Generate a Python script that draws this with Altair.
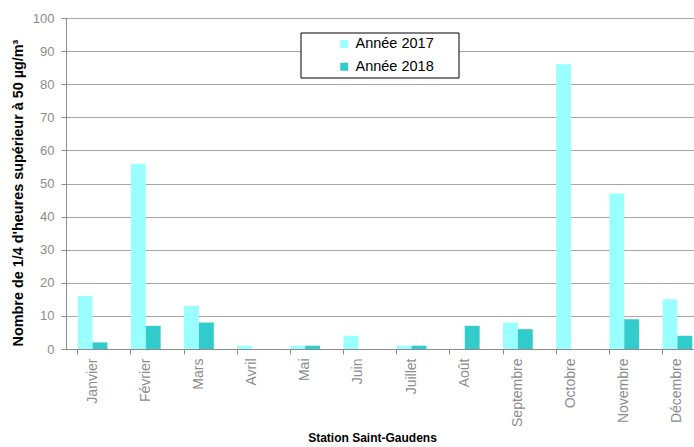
import altair as alt
import pandas as pd

months = ["Janvier", "Février", "Mars", "Avril", "Mai", "Juin", "Juillet",
          "Août", "Septembre", "Octobre", "Novembre", "Décembre"]
v2017 = [16, 56, 13, 1, 1, 4, 1, 0, 8, 86, 47, 15]
v2018 = [2, 7, 8, 0, 1, 0, 1, 7, 6, 0, 9, 4]
series = ["Année 2017", "Année 2018"]
colors = ["#99FFFF", "#33CCCC"]
y_ticks = list(range(0, 101, 10))

rows = []
for m, a, b in zip(months, v2017, v2018):
    rows.append({"Mois": m, "Série": series[0], "Valeur": a})
    rows.append({"Mois": m, "Série": series[1], "Valeur": b})
df = pd.DataFrame(rows)

FONT = "Liberation Sans"
GREY = "#8c8c8c"

bars = alt.Chart(df).mark_bar().encode(
    x=alt.X("Mois:N", sort=months,
            scale=alt.Scale(range=[0, 638], paddingInner=0.44, paddingOuter=0.22),
            axis=alt.Axis(title="Station Saint-Gaudens", labelAngle=-90,
                          bandPosition=0, tickSize=5,
                          labelPadding=4, labelColor=GREY, labelFontSize=14,
                          labelFont=FONT, domainColor=GREY, tickColor=GREY,
                          titleFont=FONT, titleFontSize=12, titleFontWeight="bold",
                          titleColor="black", titleX=306, titleY=88,
                          titleBaseline="middle", titleAlign="center")),
    xOffset=alt.XOffset("Série:N", sort=series, scale=alt.Scale(paddingInner=0, paddingOuter=0)),
    y=alt.Y("Valeur:Q", scale=alt.Scale(domain=[0, 100], nice=False),
            axis=alt.Axis(values=y_ticks, title="Nombre de 1/4 d'heures supérieur à 50 µg/m³",
                          grid=True, gridColor="#a6a6a6", gridWidth=1,
                          tickSize=5, labelPadding=7, labelColor=GREY, labelFontSize=13,
                          labelFont=FONT, domainColor=GREY, tickColor=GREY,
                          titleFont=FONT, titleFontSize=14.4, titleFontWeight="bold",
                          titleColor="black", titleX=-48, titleY=174.5, titleAngle=-90,
                          titleAlign="center", titleBaseline="middle")),
    color=alt.Color("Série:N", sort=series,
                    scale=alt.Scale(domain=series, range=colors),
                    legend=alt.Legend(title=None, orient="none", legendX=271, legendY=19,
                                      symbolType="square", symbolSize=64,
                                      symbolStrokeWidth=0, labelFontSize=14.5,
                                      labelFont=FONT, labelColor="black",
                                      rowPadding=7.5, padding=0, labelOffset=4)),
)

box = alt.Chart(pd.DataFrame({"a": [0]})).mark_rect(
    fill="white", stroke="black", strokeWidth=1
).encode(
    x=alt.value(235), x2=alt.value(393), y=alt.value(15), y2=alt.value(60)
)

chart = alt.layer(bars, box).properties(
    width=628, height=331,
    autosize=alt.AutoSizeParams(type="none"),
    padding={"left": 66, "top": 18, "right": 0, "bottom": 98},
).configure_view(stroke=None).configure(font=FONT)

chart.save("out.html", embed_options={"renderer": "svg", "actions": False})
